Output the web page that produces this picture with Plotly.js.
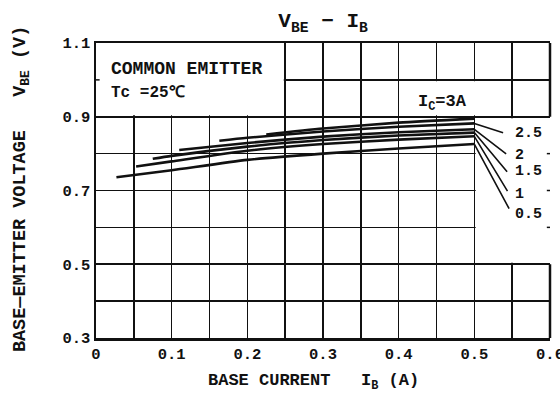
<!DOCTYPE html>
<html>
<head>
<meta charset="utf-8">
<script src="https://cdn.plot.ly/plotly-3.0.1.min.js"></script>
<style>html,body{margin:0;padding:0;background:#fff;}#chart{width:560px;height:401px;}</style>
</head>
<body>
<div id="chart"></div>
<script>
// Collector current labels (A)
const icLabels = ['0.5', '1', '1.5', '2', '2.5', '3'];

// Base current IB (A) and VBE (V) for each IC curve
const ib_05 = [0.027, 0.1, 0.2, 0.3, 0.4, 0.5];
const vbe_05 = [0.736, 0.755, 0.783, 0.800, 0.814, 0.826];
const ib_1 = [0.053, 0.1, 0.2, 0.3, 0.4, 0.5];
const vbe_1 = [0.765, 0.779, 0.808, 0.826, 0.838, 0.847];
const ib_15 = [0.075, 0.1, 0.2, 0.3, 0.4, 0.5];
const vbe_15 = [0.786, 0.794, 0.819, 0.837, 0.849, 0.857];
const ib_2 = [0.110, 0.2, 0.3, 0.4, 0.5];
const vbe_2 = [0.810, 0.829, 0.846, 0.858, 0.866];
const ib_25 = [0.163, 0.2, 0.3, 0.4, 0.5];
const vbe_25 = [0.835, 0.843, 0.860, 0.873, 0.882];
const ib_3 = [0.225, 0.3, 0.4, 0.5];
const vbe_3 = [0.852, 0.868, 0.884, 0.895];

// Label leader end points and label anchor positions (0.5 ... 2.5 A)
const leaderX = [0.547, 0.545, 0.545, 0.544, 0.540];
const leaderY = [0.647, 0.694, 0.747, 0.796, 0.855];
const labelX = [0.551, 0.551, 0.551, 0.551, 0.551];
const labelY = [0.634, 0.690, 0.751, 0.794, 0.855];

const xTickVals = [0, 0.1, 0.2, 0.3, 0.4, 0.5, 0.6];
const yTickVals = [0.3, 0.5, 0.7, 0.9, 1.1];

const FONT = 'Liberation Mono, DejaVu Sans Mono, monospace';
const INK = '#111';
const f = (size) => ({family: FONT, size: size, color: INK, weight: 'bold'});

const series = [
  [ib_05, vbe_05], [ib_1, vbe_1], [ib_15, vbe_15],
  [ib_2, vbe_2], [ib_25, vbe_25], [ib_3, vbe_3]
];

const traces = series.map((s, i) => ({
  x: s[0], y: s[1], type: 'scatter', mode: 'lines',
  name: 'IC=' + icLabels[i] + 'A',
  line: {color: INK, width: 2.6, shape: 'spline', smoothing: 0.6},
  hoverinfo: 'skip', showlegend: false
}));

const ex = 0.0018, ey = 0.004;
const shapes = [
  // white masks over the grid
  {type: 'rect', xref: 'x', yref: 'y', x0: -0.02, x1: 0.25 - ex, y0: 0.9 + ey, y1: 1.12, fillcolor: '#fff', line: {width: 0}, layer: 'between'},
  {type: 'rect', xref: 'x', yref: 'y', x0: 0.4 + ex, x1: 0.55 - ex, y0: 0.9 + ey, y1: 1.0 - ey, fillcolor: '#fff', line: {width: 0}, layer: 'between'},
  {type: 'rect', xref: 'x', yref: 'y', x0: 0.5 + ex, x1: 0.62, y0: 0.5 + ey, y1: 0.9 - ey, fillcolor: '#fff', line: {width: 0}, layer: 'between'},
  // right border (broken where the labels are)
  {type: 'line', xref: 'paper', yref: 'paper', x0: 1, x1: 1, y0: 0, y1: 0.25, line: {color: INK, width: 2.5}, layer: 'above'},
  {type: 'line', xref: 'paper', yref: 'paper', x0: 1, x1: 1, y0: 0.75, y1: 1, line: {color: INK, width: 2.5}, layer: 'above'},
  {type: 'line', xref: 'paper', yref: 'paper', x0: 0.993, x1: 1.0, y0: 0.375, y1: 0.375, line: {color: INK, width: 1.5}, layer: 'above'},
  {type: 'line', xref: 'paper', yref: 'paper', x0: 0.993, x1: 1.0, y0: 0.5, y1: 0.5, line: {color: INK, width: 1.5}, layer: 'above'},
  {type: 'line', xref: 'paper', yref: 'paper', x0: 0.993, x1: 1.0, y0: 0.625, y1: 0.625, line: {color: INK, width: 1.5}, layer: 'above'},
  {type: 'line', xref: 'paper', yref: 'paper', x0: 0, x1: 0.008, y0: 0.875, y1: 0.875, line: {color: INK, width: 1.5}, layer: 'above'}
];

const annotations = [];
// leader lines from curve ends to labels
for (let i = 0; i < 5; i++) {
  const s = series[i];
  annotations.push({
    x: s[0][s[0].length - 1], y: s[1][s[1].length - 1], xref: 'x', yref: 'y',
    ax: leaderX[i], ay: leaderY[i], axref: 'x', ayref: 'y',
    text: '', showarrow: true, arrowhead: 0, arrowwidth: 1.6, arrowcolor: INK
  });
  annotations.push({
    x: labelX[i], y: labelY[i], xref: 'x', yref: 'y', xanchor: 'left', yanchor: 'middle',
    text: icLabels[i], showarrow: false, font: f(15)
  });
}
annotations.push({
  x: 0.458, y: 0.936, xref: 'x', yref: 'y', xanchor: 'center', yanchor: 'middle',
  text: 'I<sub>C</sub>=' + icLabels[5] + 'A', showarrow: false, font: f(17)
});
annotations.push({
  x: 0.0175, y: 1.03, xref: 'x', yref: 'y', xanchor: 'left', yanchor: 'middle',
  text: 'COMMON EMITTER', showarrow: false, font: f(18)
});
annotations.push({
  x: 0.0175, y: 0.965, xref: 'x', yref: 'y', xanchor: 'left', yanchor: 'middle',
  text: 'Tc =25℃', showarrow: false, font: f(16)
});
// axis titles
annotations.push({
  x: 0.479, y: -0.15, xref: 'paper', yref: 'paper', xanchor: 'center', yanchor: 'middle',
  text: 'BASE CURRENT   I<sub>B</sub> (A)', showarrow: false, font: f(17)
});
annotations.push({
  x: -0.165, y: 0.505, xref: 'paper', yref: 'paper', xanchor: 'center', yanchor: 'middle',
  textangle: -90,
  text: 'BASE—EMITTER VOLTAGE   V<sub>BE</sub> (V)', showarrow: false, font: f(18.5)
});

const layout = {
  width: 560, height: 401,
  margin: {l: 96, r: 10, t: 43, b: 63},
  paper_bgcolor: '#fff', plot_bgcolor: '#fff',
  title: {
    text: 'V<sub>BE</sub> − I<sub>B</sub>',
    x: 0.577, xanchor: 'center', y: 0.95, yanchor: 'middle', yref: 'container',
    font: f(21)
  },
  xaxis: {
    range: [0, 0.6], tickvals: xTickVals, ticktext: xTickVals.map(String),
    showgrid: true, gridcolor: INK, gridwidth: 1.6,
    minor: {dtick: 0.05, tick0: 0, showgrid: true, gridcolor: INK, gridwidth: 1.6},
    zeroline: false, showline: true, mirror: true, linecolor: INK, linewidth: 2.5,
    ticks: '', tickfont: f(15.5), ticklabeloverflow: 'allow', fixedrange: true
  },
  yaxis: {
    range: [0.3, 1.1], tickvals: yTickVals, ticktext: yTickVals.map(String),
    showgrid: true, gridcolor: INK, gridwidth: 1.6,
    minor: {dtick: 0.1, tick0: 0.3, showgrid: true, gridcolor: INK, gridwidth: 1.6},
    zeroline: false, showline: true, mirror: false, linecolor: INK, linewidth: 2.5,
    ticks: '', tickfont: f(15.5), ticklabeloverflow: 'allow', fixedrange: true
  },
  shapes: shapes,
  annotations: annotations,
  showlegend: false
};

Plotly.newPlot('chart', traces, layout, {staticPlot: true, displayModeBar: false});
</script>
</body>
</html>
